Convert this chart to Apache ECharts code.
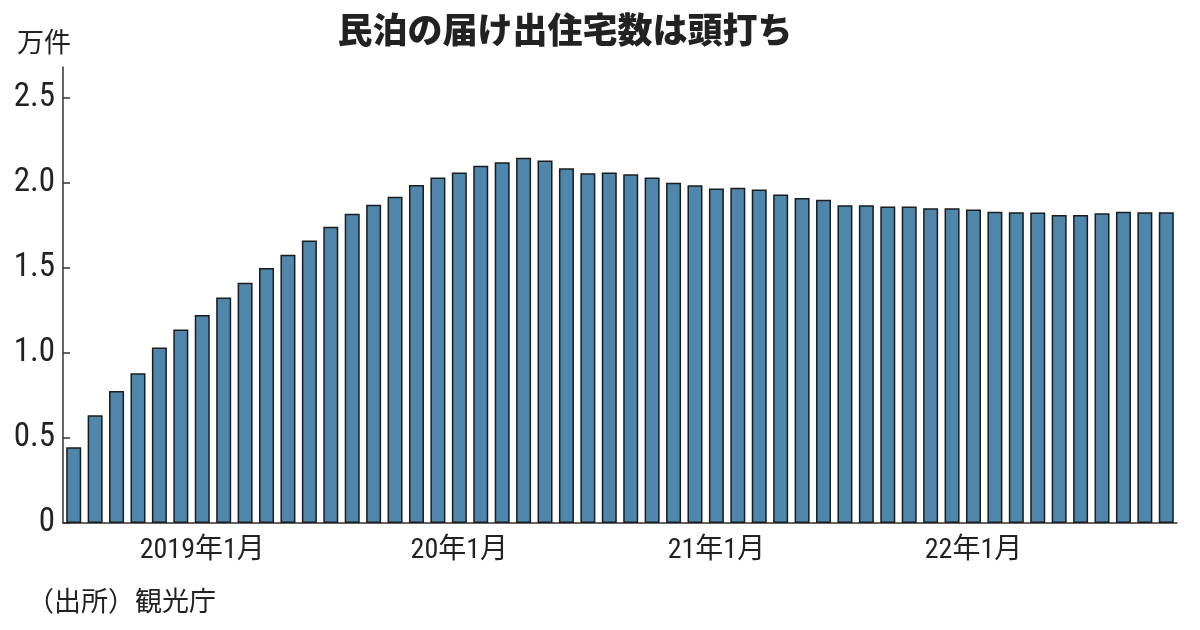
<!DOCTYPE html>
<html><head><meta charset="utf-8">
<script src="https://cdn.jsdelivr.net/npm/echarts@6/dist/echarts.min.js"></script>
<style>html,body{margin:0;padding:0;background:#fff}#c{width:1200px;height:630px}</style>
</head><body><div id="c"></div>
<script>
const title = '民泊の届け出住宅数は頭打ち';
const unitLabel = '万件';
const sourceNote = '（出所）観光庁';
// months: 2018年7月 .. 2022年10月
const months = [
 '2018-07','2018-08','2018-09','2018-10','2018-11','2018-12',
 '2019-01','2019-02','2019-03','2019-04','2019-05','2019-06','2019-07','2019-08','2019-09','2019-10','2019-11','2019-12',
 '2020-01','2020-02','2020-03','2020-04','2020-05','2020-06','2020-07','2020-08','2020-09','2020-10','2020-11','2020-12',
 '2021-01','2021-02','2021-03','2021-04','2021-05','2021-06','2021-07','2021-08','2021-09','2021-10','2021-11','2021-12',
 '2022-01','2022-02','2022-03','2022-04','2022-05','2022-06','2022-07','2022-08','2022-09','2022-10'
];
const tickLabels = {'2019-01':'2019年1月','2020-01':'20年1月','2021-01':'21年1月','2022-01':'22年1月'};
const values = [
 0.445,0.634,0.776,0.88,1.032,1.137,
 1.222,1.325,1.412,1.498,1.576,1.66,1.741,1.818,1.871,1.918,1.986,2.03,
 2.06,2.10,2.12,2.147,2.13,2.085,2.055,2.06,2.05,2.03,2.0,1.985,
 1.966,1.97,1.96,1.93,1.91,1.90,1.867,1.867,1.86,1.86,1.85,1.85,
 1.843,1.83,1.827,1.825,1.81,1.81,1.82,1.83,1.827,1.827
];
const yTicks = [0,0.5,1,1.5,2,2.5];

const numFont = '"Liberation Sans Narrow","Arial Narrow","Roboto Condensed","DejaVu Sans Condensed","Noto Sans CJK JP",sans-serif';
const chart = echarts.init(document.getElementById('c'));
chart.setOption({
  animation:false,
  backgroundColor:'#fff',
  title:{text:title,left:560,top:7,textAlign:'center',
    textStyle:{fontFamily:'"Noto Sans CJK JP",sans-serif',fontWeight:900,fontSize:35,color:'#222'}},
  graphic:[
    {type:'text',left:17,top:28,style:{text:unitLabel,fontFamily:'"Noto Sans CJK JP",sans-serif',fontSize:27,fill:'#222'}},
    {type:'text',left:27,top:587,style:{text:sourceNote,fontFamily:'"Noto Sans CJK JP",sans-serif',fontSize:27,fill:'#222'}}
  ],
  grid:{left:63,right:23,top:67,bottom:107,containLabel:false},
  xAxis:{type:'category',data:months,
    axisLine:{show:true,lineStyle:{color:'#333',width:1.5}},
    axisTick:{show:false},
    axisLabel:{interval:0,margin:14,color:'#222',fontFamily:numFont,fontSize:28,
      formatter:v=>tickLabels[v]||''}
  },
  yAxis:{type:'value',min:0,max:2.68,
    splitLine:{show:false},
    axisLine:{show:true,lineStyle:{color:'#333',width:1.5}},
    axisTick:{show:true,inside:true,length:7,lineStyle:{color:'#333',width:1.5},customValues:yTicks},
    axisLabel:{color:'#222',fontFamily:numFont,fontSize:33,margin:8,customValues:yTicks,
      formatter:v=>v===0?'0':v.toFixed(1)}
  },
  series:[{type:'bar',data:values,barWidth:'70%',
    itemStyle:{color:'#4f86ab',borderColor:'#1c1c1c',borderWidth:1.5}}]
});
</script></body></html>
